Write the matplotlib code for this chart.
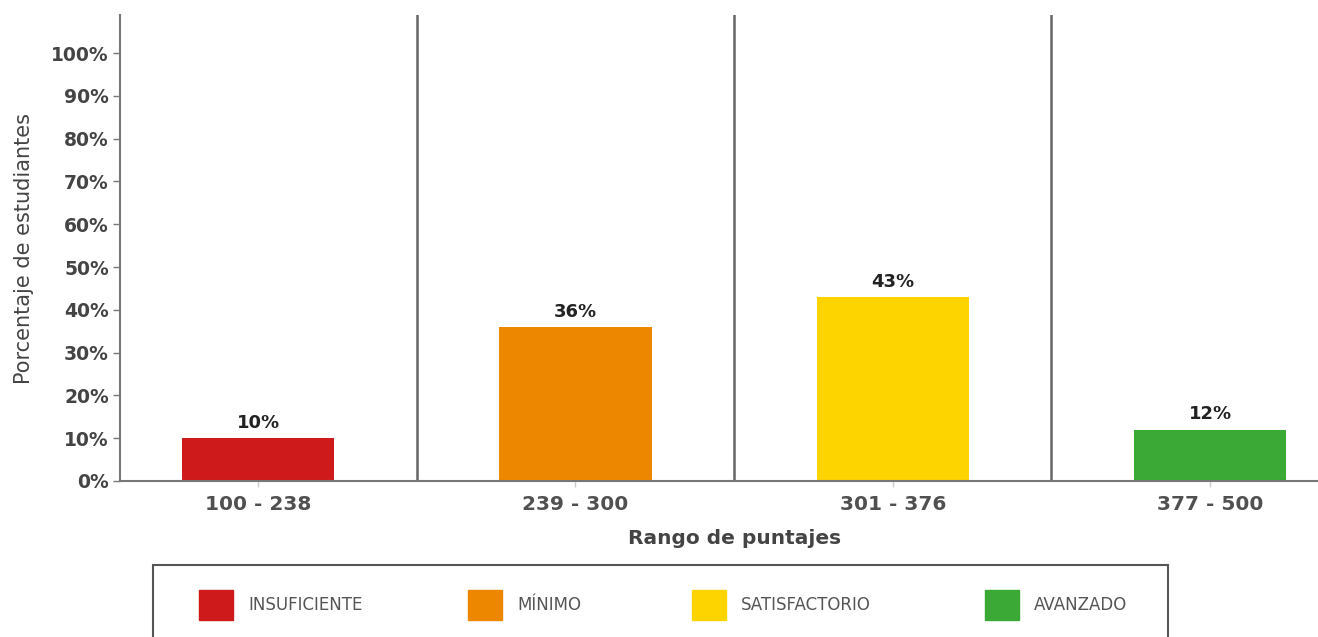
import matplotlib
matplotlib.use("Agg")
import matplotlib.pyplot as plt
from matplotlib.patches import Rectangle

plt.rcParams['font.family'] = ['DejaVu Sans']

rangos = ['100 - 238', '239 - 300', '301 - 376', '377 - 500']
porcentajes = [10, 36, 43, 12]
niveles = ['INSUFICIENTE', 'MÍNIMO', 'SATISFACTORIO', 'AVANZADO']
colores = ['#CE1A1B', '#EE8700', '#FDD400', '#3AA935']
yticks = list(range(0, 101, 10))

W, H = 1318, 637
fig = plt.figure(figsize=(W / 100, H / 100), dpi=100)
ax = fig.add_axes([120 / W, 1 - 481 / H, 1 - 120 / W, (481 - 15) / H])

x = list(range(len(rangos)))
ax.bar(x, porcentajes, width=0.48, color=colores, zorder=2)
for xi, v in zip(x, porcentajes):
    ax.text(xi, v + 1.5, f'{v}%', ha='center', va='bottom', fontsize=13,
            fontweight='bold', color='#222222')

# separadores entre rangos
for s in [0.5, 1.5, 2.5]:
    ax.axvline(s, color='#666666', lw=1.8, zorder=1)

ax.set_xlim(-0.435, 3.34)
ax.set_ylim(0, 108.9)
ax.set_yticks(yticks)
ax.set_yticklabels([f'{t}%' for t in yticks])
ax.set_xticks(x)
ax.set_xticklabels(rangos)

for sp in ['top', 'right']:
    ax.spines[sp].set_visible(False)
for sp in ['left', 'bottom']:
    ax.spines[sp].set_color('#777777')
    ax.spines[sp].set_linewidth(1.5)

ax.tick_params(axis='y', length=5, width=1, color='#777777', labelsize=13.5,
               labelcolor='#444444', pad=3)
ax.tick_params(axis='x', length=4, width=1, color='#cccccc', labelsize=14.5,
               labelcolor='#505050', pad=6)
for lab in ax.get_yticklabels() + ax.get_xticklabels():
    lab.set_fontweight('bold')

ax.set_xlabel('Rango de puntajes', fontsize=14.5, fontweight='bold',
              color='#444444')
ax.xaxis.set_label_coords(0.513, -0.103)
ax.set_ylabel('Porcentaje de estudiantes', fontsize=15, color='#444444')
ax.yaxis.set_label_coords(-0.072, 0.5)

# leyenda
fig.add_artist(Rectangle((153 / W, -0.05), (1168 - 153) / W, 0.05 + (H - 565) / H,
                         transform=fig.transFigure, fill=False,
                         edgecolor='#555555', lw=1.5))
leg_x = [199, 468, 692, 985]
for lx, nombre, c in zip(leg_x, niveles, colores):
    fig.add_artist(Rectangle((lx / W, 1 - 620 / H), 34 / W, 30 / H,
                             transform=fig.transFigure, color=c))
    fig.text((lx + 49) / W, 1 - 605 / H, nombre, fontsize=12, color='#555555',
             va='center', ha='left')

fig.savefig('out.png', dpi=100)
